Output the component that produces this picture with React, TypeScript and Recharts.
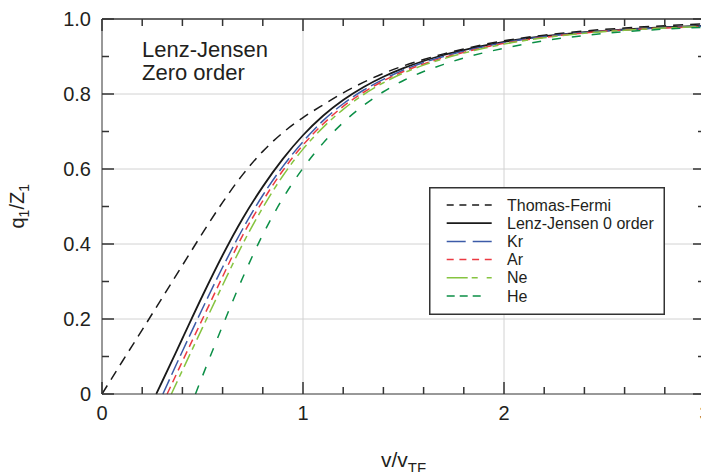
import React from 'react';
import { LineChart, Line, XAxis, YAxis, CartesianGrid, Legend, ReferenceLine } from 'recharts';

// ---------- data ----------
const tfV = [0, 0.1, 0.2, 0.3, 0.4, 0.5, 0.6, 0.7, 0.8, 0.9, 1.0, 1.1, 1.2, 1.3, 1.4, 1.5, 1.6, 1.7, 1.8, 1.9, 2.0, 2.2, 2.4, 2.6, 2.8, 3.0];
const tfQ = [0, 0.086, 0.171, 0.257, 0.343, 0.429, 0.511, 0.585, 0.647, 0.697, 0.737, 0.771, 0.803, 0.831, 0.855, 0.875, 0.892, 0.907, 0.92, 0.932, 0.942, 0.957, 0.968, 0.976, 0.982, 0.987];

const ljV = [0.27, 0.3, 0.4, 0.5, 0.6, 0.7, 0.8, 0.9, 1.0, 1.1, 1.2, 1.3, 1.4, 1.5, 1.6, 1.7, 1.8, 1.9, 2.0, 2.2, 2.4, 2.6, 2.8, 3.0];
const ljQ = [0, 0.034, 0.148, 0.262, 0.37, 0.468, 0.553, 0.627, 0.69, 0.742, 0.784, 0.818, 0.846, 0.869, 0.888, 0.904, 0.917, 0.929, 0.939, 0.954, 0.965, 0.972, 0.978, 0.982];

const krV = [0.303, 0.4, 0.5, 0.6, 0.7, 0.8, 0.9, 1.0, 1.1, 1.2, 1.3, 1.4, 1.5, 1.6, 1.7, 1.8, 1.9, 2.0, 2.2, 2.4, 2.6, 2.8, 3.0];
const krQ = [0, 0.114, 0.228, 0.338, 0.44, 0.53, 0.607, 0.673, 0.729, 0.774, 0.81, 0.839, 0.864, 0.884, 0.9, 0.914, 0.926, 0.937, 0.953, 0.964, 0.971, 0.977, 0.981];

const arV = [0.324, 0.4, 0.5, 0.6, 0.7, 0.8, 0.9, 1.0, 1.1, 1.2, 1.3, 1.4, 1.5, 1.6, 1.7, 1.8, 1.9, 2.0, 2.2, 2.4, 2.6, 2.8, 3.0];
const arQ = [0, 0.087, 0.2, 0.313, 0.423, 0.515, 0.596, 0.664, 0.72, 0.767, 0.804, 0.835, 0.86, 0.88, 0.897, 0.911, 0.924, 0.935, 0.951, 0.963, 0.971, 0.976, 0.98];

const neV = [0.345, 0.4, 0.5, 0.6, 0.7, 0.8, 0.9, 1.0, 1.1, 1.2, 1.3, 1.4, 1.5, 1.6, 1.7, 1.8, 1.9, 2.0, 2.2, 2.4, 2.6, 2.8, 3.0];
const neQ = [0, 0.063, 0.177, 0.29, 0.4, 0.497, 0.582, 0.653, 0.711, 0.759, 0.798, 0.83, 0.856, 0.877, 0.894, 0.909, 0.922, 0.933, 0.95, 0.962, 0.97, 0.976, 0.98];

const heV = [0.465, 0.5, 0.6, 0.7, 0.8, 0.9, 1.0, 1.1, 1.2, 1.3, 1.4, 1.5, 1.6, 1.7, 1.8, 1.9, 2.0, 2.2, 2.4, 2.6, 2.8, 3.0];
const heQ = [0, 0.048, 0.182, 0.31, 0.425, 0.522, 0.602, 0.669, 0.724, 0.769, 0.806, 0.836, 0.86, 0.879, 0.896, 0.91, 0.922, 0.942, 0.956, 0.966, 0.973, 0.978];

const seriesNames = ['Thomas-Fermi', 'Lenz-Jensen 0 order', 'Kr', 'Ar', 'Ne', 'He'];

const xTicks = [0, 0.2, 0.4, 0.6, 0.8, 1, 1.2, 1.4, 1.6, 1.8, 2, 2.2, 2.4, 2.6, 2.8, 3];
const yTicks = [0, 0.1, 0.2, 0.3, 0.4, 0.5, 0.6, 0.7, 0.8, 0.9, 1];
const xDomain = [0, 3];
const yDomain = [0, 1];
const xGridValues = [1, 2];
const yGridValues = [0.2, 0.4, 0.6, 0.8];

const annotationLines = ['Lenz-Jensen', 'Zero order'];

// ---------- styles / layout ----------
const FONT = '"Liberation Sans", Arial, Helvetica, sans-serif';
const TEXT = '#231f20';
const AXIS = '#333333';
const PLOT_W = 603;
const PLOT_H = 375;
const MAJOR_PX = 12;
const MINOR_PX = 7;

const toPoints = (v: number[], q: number[]) => v.map((x, i) => ({ x, q: q[i] }));

const seriesData = [
  toPoints(tfV, tfQ),
  toPoints(ljV, ljQ),
  toPoints(krV, krQ),
  toPoints(arV, arQ),
  toPoints(neV, neQ),
  toPoints(heV, heQ),
];

const seriesStyle = [
  { color: '#1a1a1a', width: 1.5, dash: '10 7', legendDash: '7 5.7', legendLen: 45 },
  { color: '#1a1a1a', width: 1.8, dash: undefined, legendDash: undefined, legendLen: 45 },
  { color: '#3c5ba8', width: 1.5, dash: '16 5', legendDash: '19 7', legendLen: 45 },
  { color: '#ec3a42', width: 1.5, dash: '8 5', legendDash: '7 5.7', legendLen: 45 },
  { color: '#86c440', width: 1.5, dash: '14 5 6 5', legendDash: '21 4 6 9 6 9', legendLen: 45 },
  { color: '#0b8f46', width: 1.5, dash: '9 11', legendDash: '8 5', legendLen: 35 },
];

const isMajorX = (v: number) => Math.abs(v - Math.round(v)) < 1e-6;
const isMajorY = (v: number) => Math.abs(v * 5 - Math.round(v * 5)) < 1e-6;
const fmtY = (v: number) => (v === 0 ? '0' : v.toFixed(1));

const xSpan = xDomain[1] - xDomain[0];
const ySpan = yDomain[1] - yDomain[0];
const yLenFor = (px: number) => (px / PLOT_H) * ySpan;
const xLenFor = (px: number) => (px / PLOT_W) * xSpan;

function BottomTick(props: any) {
  const x = Number(props.x);
  const y = Number(props.y);
  const v = props.payload.value;
  const major = isMajorX(v);
  return (
    <g>
      <path d={`M${x},${y}V${y - (major ? MAJOR_PX : MINOR_PX)}`} stroke={AXIS} strokeWidth={1.5} fill="none" />
      {major ? (
        <text x={x} y={y + 26} textAnchor="middle" fontSize={20} fontFamily={FONT} fill={TEXT}>
          {String(v)}
        </text>
      ) : null}
    </g>
  );
}

function LeftTick(props: any) {
  const x = Number(props.x);
  const y = Number(props.y);
  const v = props.payload.value;
  const major = isMajorY(v);
  return (
    <g>
      <path d={`M${x},${y}H${x + (major ? MAJOR_PX : MINOR_PX)}`} stroke={AXIS} strokeWidth={1.5} fill="none" />
      {major ? (
        <text x={x - 11} y={y + 7} textAnchor="end" fontSize={20} fontFamily={FONT} fill={TEXT}>
          {fmtY(v)}
        </text>
      ) : null}
    </g>
  );
}

function YTitle(props: any) {
  const vb = props.viewBox || { x: 0, y: 0, width: 0, height: 0 };
  const cx = 16;
  const cy = vb.y + vb.height / 2;
  const s = cx - 22;
  return (
    <g transform={`rotate(-90, ${cx}, ${cy})`}>
      <text x={s} y={cy} fontSize={20} fontFamily={FONT} fill={TEXT}>q</text>
      <text x={s + 11.1} y={cy + 5} fontSize={14} fontFamily={FONT} fill={TEXT}>1</text>
      <text x={s + 18.9} y={cy} fontSize={20} fontFamily={FONT} fill={TEXT}>/Z</text>
      <text x={s + 36.7} y={cy + 5} fontSize={14} fontFamily={FONT} fill={TEXT}>1</text>
    </g>
  );
}

function XTitle(props: any) {
  const vb = props.viewBox || { x: 0, y: 0, width: 0, height: 0 };
  const cx = vb.x + vb.width / 2;
  const by = vb.y + 73;
  const s = cx - 22.5;
  return (
    <g>
      <text x={s} y={by} fontSize={21} fontFamily={FONT} fill={TEXT}>v/v</text>
      <text x={s + 26.8} y={by + 6} fontSize={15} fontFamily={FONT} fill={TEXT}>TF</text>
    </g>
  );
}

function LegendBox() {
  return (
    <svg width={236} height={128} style={{ display: 'block' }}>
      <rect x={0.75} y={0.75} width={234.5} height={126.5} fill="#fff" stroke={AXIS} strokeWidth={1.5} />
      {seriesNames.map((name, i) => {
        const s = seriesStyle[i];
        const cy = 18 + i * 18.2;
        return (
          <g key={name}>
            <line
              x1={17.7}
              x2={17.7 + s.legendLen}
              y1={cy}
              y2={cy}
              stroke={s.color}
              strokeWidth={s.width}
              strokeDasharray={s.legendDash}
            />
            <text x={78} y={cy + 5.5} fontSize={16} fontFamily={FONT} fill={TEXT}>
              {name}
            </text>
          </g>
        );
      })}
    </svg>
  );
}

export default function App() {
  const tickLines: React.ReactNode[] = [];
  xTicks.forEach((v) => {
    const len = yLenFor(isMajorX(v) ? MAJOR_PX : MINOR_PX);
    tickLines.push(
      <ReferenceLine
        key={`t${v}`}
        xAxisId="x"
        yAxisId="y"
        segment={[{ x: v, y: yDomain[1] }, { x: v, y: yDomain[1] - len }]}
        stroke={AXIS}
        strokeWidth={1.5}
      />
    );
  });
  yTicks.forEach((v) => {
    const len = xLenFor(isMajorY(v) ? MAJOR_PX : MINOR_PX);
    tickLines.push(
      <ReferenceLine
        key={`r${v}`}
        xAxisId="x"
        yAxisId="y"
        segment={[{ x: xDomain[1], y: v }, { x: xDomain[1] - len, y: v }]}
        stroke={AXIS}
        strokeWidth={1.5}
      />
    );
  });

  return (
    <LineChart width={701} height={464} margin={{ top: 11, right: 4, bottom: 0, left: 0 }}>
      <CartesianGrid
        xAxisId="x"
        yAxisId="y"
        stroke="#d2d2d2"
        fill="none"
        horizontalValues={yGridValues}
        verticalValues={xGridValues}
      />
      <XAxis
        xAxisId="x"
        dataKey="x"
        type="number"
        domain={xDomain}
        ticks={xTicks}
        interval={0}
        height={78}
        tickSize={0}
        tickMargin={0}
        tickLine={false}
        stroke={AXIS}
        tick={<BottomTick />}
        label={<XTitle />}
      />
      <YAxis
        yAxisId="y"
        type="number"
        domain={yDomain}
        ticks={yTicks}
        interval={0}
        width={94}
        tickSize={0}
        tickMargin={0}
        tickLine={false}
        stroke={AXIS}
        tick={<LeftTick />}
        label={<YTitle />}
      />
      {seriesNames.map((name, i) => (
        <Line
          key={name}
          data={seriesData[i]}
          xAxisId="x"
          yAxisId="y"
          dataKey="q"
          type="monotone"
          stroke={seriesStyle[i].color}
          strokeWidth={seriesStyle[i].width}
          strokeDasharray={seriesStyle[i].dash}
          dot={false}
          isAnimationActive={false}
        />
      ))}
      <ReferenceLine xAxisId="x" yAxisId="y" x={xDomain[1]} stroke={AXIS} strokeWidth={1.5} />
      <ReferenceLine xAxisId="x" yAxisId="y" y={yDomain[1]} stroke={AXIS} strokeWidth={1.5} />
      {tickLines}
      <Legend
        layout="horizontal"
        verticalAlign="middle"
        align="center"
        wrapperStyle={{ left: 421, top: 179, width: 236, height: 128 }}
        content={() => <LegendBox />}
      />
      <text x={134} y={49} fontSize={22} fontFamily={FONT} fill={TEXT}>{annotationLines[0]}</text>
      <text x={134} y={72} fontSize={22} fontFamily={FONT} fill={TEXT}>{annotationLines[1]}</text>
    </LineChart>
  );
}
